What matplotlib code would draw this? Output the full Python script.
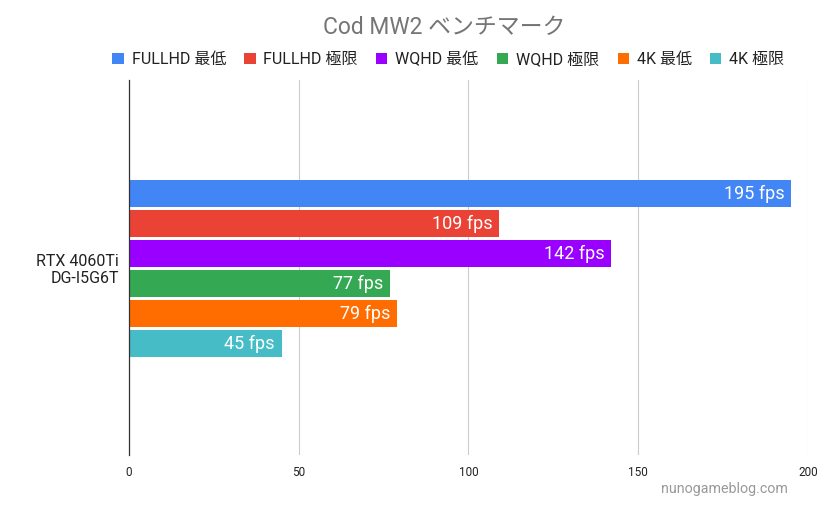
import matplotlib.pyplot as plt

plt.rcParams['font.family'] = ['Roboto', 'Noto Sans CJK JP', 'DejaVu Sans']

category = "RTX 4060Ti\nDG-I5G6T"
series = ["FULLHD 最低", "FULLHD 極限", "WQHD 最低", "WQHD 極限", "4K 最低", "4K 極限"]
values = [195, 109, 142, 77, 79, 45]
colors = ["#4285f4", "#ea4335", "#9900ff", "#34a853", "#ff6d01", "#46bdc6"]

fig = plt.figure(figsize=(8.38, 5.07), dpi=100)
ax = fig.add_axes([0.1539, 0.1026, 0.8103, 0.7396])

step = 0.16
h = 0.144
n = len(values)
for i, (name, v, c) in enumerate(zip(series, values, colors)):
    y = (n - 1) / 2 * step - i * step - 0.008
    ax.barh(y, v, height=h, color=c, label=name, zorder=3)
    ax.text(v - 2, y, f"{v} fps", color="white", fontsize=13,
            ha="right", va="center", zorder=4)

ax.set_xlim(0, 200)
ax.set_ylim(-1, 1)
ax.set_xticks([0, 50, 100, 150, 200])
ax.tick_params(axis='x', length=0, labelsize=8.5, pad=8, colors="#222222")
ax.set_yticks([0])
ax.set_yticklabels([category], fontsize=11.5, color="#222222")
ax.tick_params(axis='y', length=0, pad=7)
ax.grid(axis='x', color="#cccccc", linewidth=0.8, zorder=0)
for s in ['top', 'right', 'bottom']:
    ax.spines[s].set_visible(False)
ax.spines['left'].set_color("#333333")
ax.spines['left'].set_linewidth(0.9)
ax.spines['left'].set_zorder(5)

fig.text(0.53, 0.945, "Cod MW2 ベンチマーク", ha="center", va="center",
         fontsize=16.5, color="#757575")
fig.legend(loc="center", bbox_to_anchor=(0.535, 0.883), ncol=6, frameon=False,
           fontsize=11.5, handlelength=0.7, handleheight=0.7, handletextpad=0.5,
           columnspacing=1.15, labelcolor="#222222")
fig.text(0.864, 0.035, "nunogameblog.com", ha="center", va="center",
         fontsize=10.3, color="#999999")

fig.savefig("out.png", dpi=100)
